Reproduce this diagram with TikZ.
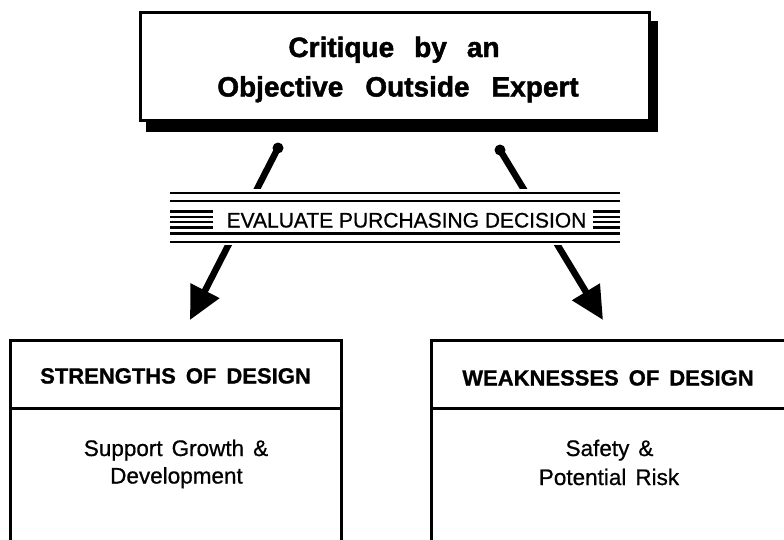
\documentclass[tikz,border=0pt]{standalone}
\usepackage{fontspec}
\setmainfont{Liberation Sans}
\newfontfamily\heavyfont[FakeBold=1.6]{Liberation Sans Bold}
\newfontfamily\headfont[FakeBold=1.0]{Liberation Sans Bold}
\newfontfamily\medfont[FakeBold=0.7]{Liberation Sans}
\usetikzlibrary{arrows.meta}
\newcommand\wsp[1]{\spaceskip=#1\relax}
\begin{document}
\begin{tikzpicture}[x=1pt,y=-1pt,
  frame/.style={draw=black, line width=3pt, fill=white, inner sep=0pt, outer sep=0pt},
  divline/.style={line width=2.6pt},
  bandline/.style={line width=2.2pt},
  bigarrow/.style={line width=6.5pt, -{Triangle[length=33pt,width=31pt]}},
  titletext/.style={font={\heavyfont\fontsize{28}{34}\selectfont}, anchor=base, inner sep=0pt},
  headtext/.style={font={\headfont\fontsize{22}{26}\selectfont}, anchor=base, inner sep=0pt},
  bodytext/.style={font={\medfont\fontsize{22.5}{26}\selectfont}, anchor=base, inner sep=0pt},
  bandtext/.style={font={\medfont\fontsize{21}{24}\selectfont}, anchor=base, inner sep=0pt}]
\useasboundingbox (0,0) rectangle (784,539);
\clip (0,0) rectangle (784,539);
\fill[white] (0,0) rectangle (784,539);

% top box with drop shadow
\fill[black] (146,20.5) rectangle (658,131.5);
\node[frame, minimum width=509pt, minimum height=108pt] (crit) at (395,66) {};
\node[titletext] (crit1) at (394,57) {\wsp{20pt}Critique by an};
\node[titletext] (crit2) at (398,96.5) {\wsp{22pt}Objective Outside Expert};

% arrows
\coordinate (ls) at (278,148);
\coordinate (le) at (190,320);
\coordinate (rs) at (500,150);
\coordinate (re) at (603,320);
\draw[bigarrow] (ls) -- (le);
\draw[bigarrow] (rs) -- (re);
\fill (ls) circle (5.5);
\fill (rs) circle (5.5);

% banner
\node[fill=white, inner sep=0pt, minimum width=452pt, minimum height=56pt] (eval) at (395,217) {};
\draw[bandline] (170,193) -- (620,193);
\draw[bandline] (170,201) -- (620,201);
\draw[bandline] (170,233.5) -- (620,233.5);
\draw[bandline] (170,242) -- (620,242);
\foreach \yy in {211.5,217,222,227.5}{
  \draw[bandline] (170,\yy) -- (213,\yy);
  \draw[bandline] (593,\yy) -- (620,\yy);
}
\node[bandtext] (evaltxt) at (406.5,227.5) {EVALUATE PURCHASING DECISION};

% bottom left box
\node[frame, minimum width=330.7pt, minimum height=300pt, anchor=north west] (sbox) at (10.3,340.3) {};
\draw[divline] (10.3,408.5) -- (341,408.5);
\node[headtext] (shead) at (175.5,383.5) {\wsp{10pt}STRENGTHS OF DESIGN};
\node[bodytext] (sbody1) at (176,456) {\wsp{9pt}Support Growth \&};
\node[bodytext] (sbody2) at (176.5,483.5) {Development};

% bottom right box
\node[frame, minimum width=400pt, minimum height=300pt, anchor=north west] (wbox) at (431.3,340.3) {};
\draw[divline] (431.3,408.5) -- (800,408.5);
\node[headtext] (whead) at (608,385.5) {\wsp{10pt}WEAKNESSES OF DESIGN};
\node[bodytext] (wbody1) at (609.5,456) {\wsp{9pt}Safety \&};
\node[bodytext] (wbody2) at (609,485) {\wsp{9pt}Potential Risk};
\end{tikzpicture}
\end{document}
